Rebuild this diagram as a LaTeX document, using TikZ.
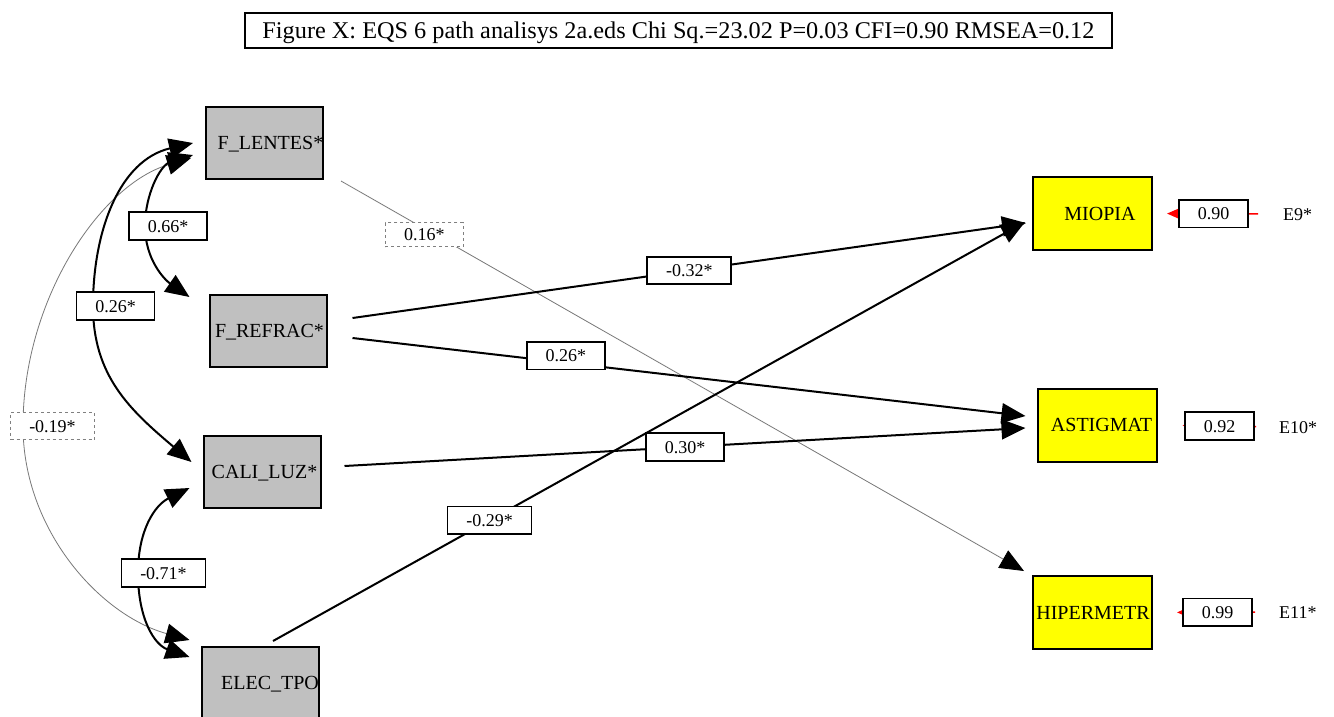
\documentclass[tikz,border=0pt]{standalone}
\usepackage{fontspec}
\setmainfont{Liberation Serif}
\usepackage{graphicx}
\usetikzlibrary{arrows.meta,calc}
\definecolor{boxgrey}{RGB}{192,192,192}
\definecolor{boxyellow}{RGB}{255,255,0}
\definecolor{thingrey}{RGB}{120,120,120}
\definecolor{dashgrey}{RGB}{128,128,128}
\begin{document}
\begin{tikzpicture}[x=1pt,y=-1pt,
  gbox/.style={draw, line width=2pt, fill=boxgrey, minimum width=117pt, minimum height=72pt, inner sep=0pt},
  ybox/.style={draw, line width=2pt, fill=boxyellow, minimum width=119pt, minimum height=73pt, inner sep=0pt},
  vtext/.style={font=\fontsize{20pt}{24pt}\selectfont, text height=13.5pt, text depth=0pt, inner sep=0pt},
  etext/.style={font=\fontsize{18pt}{22pt}\selectfont, text height=12pt, text depth=0pt, inner sep=0pt},
  coef/.style={draw=black, solid, line width=1.6pt, fill=white, text=black, font=\fontsize{18pt}{22pt}\selectfont, text height=12pt, text depth=0pt, inner xsep=18.75pt, inner ysep=0pt, minimum height=27.5pt},
  coefd/.style={coef, draw=dashgrey, dashed, line width=0.8pt},
  pth/.style={line width=2pt, -{Triangle[length=24pt,width=20pt]}},
  thinpath/.style={line width=0.8pt, draw=thingrey, -{Triangle[length=24pt,width=20pt,color=black]}},
  cov/.style={line width=2pt, {Triangle[length=24pt,width=20pt]}-{Triangle[length=24pt,width=20pt]}},
  covthin/.style={line width=0.8pt, draw=thingrey, {Triangle[length=24pt,width=20pt,color=black]}-{Triangle[length=24pt,width=20pt,color=black]}},
  errarr/.style={draw=red, line width=1.5pt, -{Triangle[length=12pt,width=10pt,color=red]}}
]
\useasboundingbox (0,0) rectangle (1334,716);
\clip (0,0) rectangle (1334,716);
\fill[white] (0,0) rectangle (1334,716);

% title
\node[draw, line width=1.3pt, minimum width=867pt, minimum height=35pt, inner sep=0pt, text height=16pt, text depth=0pt] (title) at (678.5,30.5)
  {\fontsize{24pt}{28pt}\selectfont\resizebox{832pt}{\height}{Figure X: EQS 6 path analisys 2a.eds Chi Sq.=23.02 P=0.03 CFI=0.90 RMSEA=0.12}};

% independent variables
\node[gbox, label={[vtext, xshift=6pt]center:F\_LENTES*}] (flentes) at (264.5,143) {};
\node[gbox, label={[vtext, xshift=1.5pt]center:F\_REFRAC*}] (frefrac) at (268,331) {};
\node[gbox, label={[vtext, xshift=2.5pt]center:CALI\_LUZ*}] (caliluz) at (262,471.5) {};
\node[gbox, label={[vtext, xshift=10pt]center:ELEC\_TPO}] (electpo) at (260,683) {};

% dependent variables
\node[ybox, label={[vtext, xshift=7.5pt]center:MIOPIA}] (miopia) at (1092.5,213.5) {};
\node[ybox, label={[vtext, xshift=4.5pt]center:ASTIGMAT}] (astig) at (1097,425) {};
\node[ybox, label={[vtext, xshift=0.5pt]center:HIPERMETR}] (hiper) at (1092.5,612.5) {};

% error labels
\node[etext, anchor=west] (e9) at (1283,214) {E9*};
\node[etext, anchor=west] (e10) at (1279,427) {E10*};
\node[etext, anchor=west] (e11) at (1279,612) {E11*};

% covariances
\draw[covthin] ($(flentes.west)+(-14,15)$) .. controls (100,185) and (23,300) .. (23,426)
  node[coefd, xshift=29.5pt] (c19) {-0.19*}
  .. controls (23,530) and (100,615) .. ($(electpo.west)+(-11,-43)$);
\draw[cov] ($(flentes.west)+(-12,0)$) .. controls (120,160) and (93,230) .. (93,306)
  node[coef, xshift=22.5pt] (c26) {0.26*}
  .. controls (93,376) and (130,410) .. ($(caliluz.west)+(-11,-9.5)$);
\draw[cov] ($(flentes.west)+(-12,12)$) .. controls (160,165) and (145,195) .. (145,226)
  node[coef, xshift=23pt] (c66) {0.66*}
  .. controls (145,260) and (165,280) .. ($(frefrac.west)+(-19,-34)$);
\draw[cov] ($(caliluz.west)+(-13,16.5)$) .. controls (155,505) and (138,530) .. (138,573)
  node[coef, xshift=25.5pt] (c71) {-0.71*}
  .. controls (138,620) and (155,645) .. ($(electpo.west)+(-11,-26)$);

% paths
\draw[thinpath] ($(flentes.east)+(17,38)$) -- node[coefd, pos=0.122, yshift=-6.3pt, minimum height=24pt] (p16) {0.16*} ($(hiper.north west)+(-8,-4)$);
\draw[pth] ($(frefrac.east)+(25,-13)$) -- node[coef, pos=0.5] (p32) {-0.32*} ($(miopia.west)+(-6,9.5)$);
\draw[pth] ($(electpo.north)+(13,-5)$) -- node[coef, pos=0.288] (p29) {-0.29*} ($(miopia.west)+(-7,8.5)$);
\draw[pth] ($(frefrac.east)+(25,7)$) -- node[coef, pos=0.317, yshift=7pt] (p26) {0.26*} ($(astig.west)+(-11,-9)$);
\draw[pth] ($(caliluz.east)+(23,-5.5)$) -- node[coef, pos=0.5] (p30) {0.30*} ($(astig.west)+(-11,3)$);

% error arrows
\draw[errarr, shorten <=25pt, shorten >=14pt] (e9.west) -- node[coef, pos=0.534] (r90) {0.90} (miopia.east);
\draw[errarr, shorten <=23pt, shorten >=25pt] (e10.west) -- node[coef, pos=0.488] (r92) {0.92} (astig.east);
\draw[errarr, shorten <=24pt, shorten >=24pt] (e11.west) -- node[coef, pos=0.488] (r99) {0.99} (hiper.east);
\end{tikzpicture}
\end{document}
